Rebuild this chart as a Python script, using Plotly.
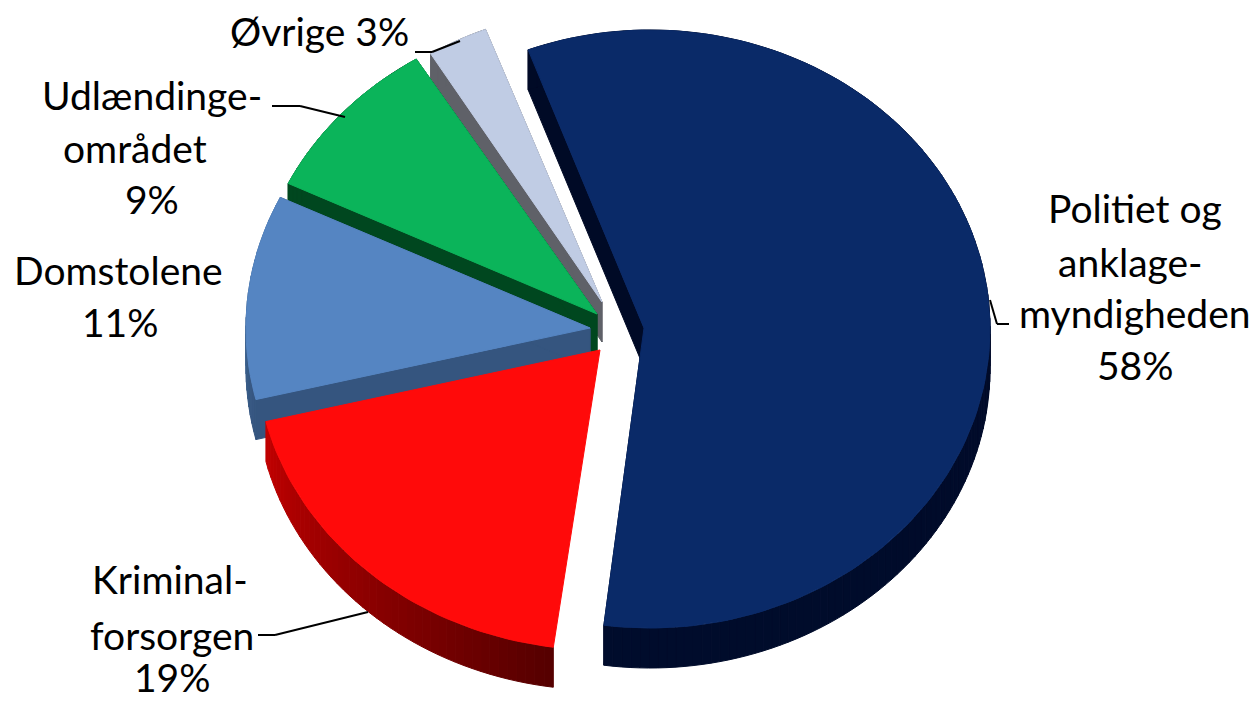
"""
Kagediagram med 3D-look, tegnet som udfyldte flader (plotly-pie kan ikke vippes)
"""

import numpy as np
import plotly.graph_objects as go

names = ["Politiet og anklagemyndigheden", "Kriminalforsorgen", "Domstolene",
         "Udlændingeområdet", "Øvrige"]
values = [58, 19, 11, 9, 3]

top_colors = ["#0A2A68", "#FF0A0A", "#5585C2", "#0BB45A", "#C0CCE4"]
wall_left = ["#000C2C", "#C00000", "#43709F", "#00471F", "#5F6168"]
wall_right = ["#000A26", "#560000", "#35557F", "#00471F", "#5F6168"]

# spids og bue for hvert stykke, i pixels (y nedad)
tip_x = [644, 600, 590, 597, 602]
tip_y = [328, 350, 328, 314, 302]
arc_x = [650, 600, 590, 597, 602]
arc_y = [329, 350, 328, 314, 302]
arc_rx = [340, 344, 344, 343, 325]
arc_ry = [299, 300, 300, 300, 292]

start_angle = -21
depth = 40

label_lines = [
    ("Politiet og", 1135, 208), ("anklage-", 1130, 262), ("myndigheden", 1135, 313), ("58%", 1135, 365),
    ("Kriminal-", 170, 579), ("forsorgen", 172, 635), ("19%", 172, 677),
    ("Domstolene", 118, 270), ("11%", 120, 322),
    ("Udlændinge-", 152, 95), ("området", 135, 148), ("9%", 152, 199),
    ("Øvrige 3%", 319, 31),
]

leaders = [
    [(990, 300), (997, 324), (1009, 324)],
    [(258, 635), (275, 635), (368, 612)],
    [(272, 106), (300, 106), (345, 117)],
    [(415, 52), (432, 52), (460, 41)],
]

shares = np.array(values) / sum(values) * 360
ends = start_angle + np.cumsum(shares)
starts = ends - shares


def mix(c0, c1, t):
    a = [int(c0[i:i + 2], 16) for i in (1, 3, 5)]
    b = [int(c1[i:i + 2], 16) for i in (1, 3, 5)]
    return "rgb({},{},{})".format(*[round(p + (q - p) * t) for p, q in zip(a, b)])


def poly(fig, xs, ys, color):
    fig.add_trace(go.Scatter(
        x=list(xs) + [xs[0]], y=list(ys) + [ys[0]],
        mode="lines", fill="toself", fillcolor=color,
        line={"color": color, "width": 1},
        hoverinfo="skip", showlegend=False,
    ))


fig = go.Figure()

# bagerste stykke tegnes først
for i in [4, 3, 2, 1, 0]:
    theta = np.radians(np.linspace(starts[i], ends[i], max(8, int(shares[i] / 1.5))))
    px = arc_x[i] + arc_rx[i] * np.sin(theta)
    py = arc_y[i] - arc_ry[i] * np.cos(theta)

    # sider: de to lige kanter (det røde stykke viser ingen)
    if i != 1:
        poly(fig, [tip_x[i], px[0], px[0], tip_x[i]],
             [tip_y[i], py[0], py[0] + depth, tip_y[i] + depth], wall_right[i])
        poly(fig, [tip_x[i], px[-1], px[-1], tip_x[i]],
             [tip_y[i], py[-1], py[-1] + depth, tip_y[i] + depth], wall_right[i])

    # side: buen, med gradient
    for k in range(len(px) - 1):
        t = 1 - k / (len(px) - 2)
        poly(fig, [px[k], px[k + 1], px[k + 1], px[k]],
             [py[k], py[k + 1], py[k + 1] + depth, py[k] + depth],
             mix(wall_left[i], wall_right[i], t))

    poly(fig, [tip_x[i]] + list(px), [tip_y[i]] + list(py), top_colors[i])

shapes = []
for pts in leaders:
    for (x0, y0), (x1, y1) in zip(pts[:-1], pts[1:]):
        shapes.append(dict(type="line", x0=x0, y0=y0, x1=x1, y1=y1,
                           line=dict(color="black", width=2)))

annotations = [
    dict(x=x, y=y, text=txt, showarrow=False, xanchor="center", yanchor="middle",
         font=dict(family="Lato", size=39, color="black"))
    for txt, x, y in label_lines
]

fig.update_layout(
    width=1258,
    height=701,
    margin=dict(l=0, r=0, t=0, b=0),
    paper_bgcolor="white",
    plot_bgcolor="white",
    xaxis=dict(range=[0, 1258], visible=False),
    yaxis=dict(range=[701, 0], visible=False),
    shapes=shapes,
    annotations=annotations,
    showlegend=False,
)

fig.write_html("out.html", post_script="document.body.style.margin='0'",
               config={"displayModeBar": False})
